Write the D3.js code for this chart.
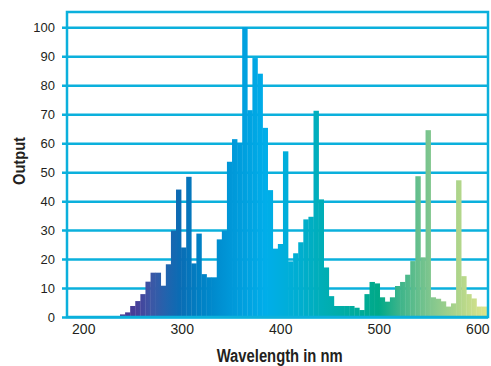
<!DOCTYPE html>
<html>
<head>
<meta charset="utf-8">
<script src="https://cdn.jsdelivr.net/npm/d3@7"></script>
<style>
  body { margin: 0; background: #fff; }
  svg { display: block; }
</style>
</head>
<body>
<svg id="chart"></svg>
<script>
// Spectral output chart (wavelength vs relative output)

const width = 491, height = 366;
const frame = { left: 67, right: 488, top: 12, bottom: 317 };
const gridColor = "#0bb0dc";

// data: one bar per bin, starting at binStart nm
const binStart = 237.3, binWidth = 5.17;
const output = [
    0.9, 1.6, 3.8, 5.5, 7.9, 12.2, 15.3, 15.3, 10.8, 18.2,
    29.8, 44, 24, 48.4, 18.5, 28.8, 14.8, 13.7, 13.7, 26.8,
    29.8, 53.6, 61.4, 60.1, 100, 71.4, 89.4, 84, 65.3, 43.8,
    23.6, 25.2, 57.2, 19.2, 22, 25.8, 33.7, 34.6, 71.2, 40.6,
    17.1, 7.2, 3.8, 3.8, 3.8, 3.8, 3.2, 2.4, 7.9, 12.1,
    11.6, 6.8, 5.3, 6.8, 10.7, 12.1, 14.6, 19.3, 48.6, 20.6,
    64.5, 6.8, 6.3, 5.4, 3.6, 4.7, 47.2, 14.1, 7.9, 6.4,
    3.6, 3.6
];
const xTicks = [200, 300, 400, 500, 600];
const yTicks = [0, 10, 20, 30, 40, 50, 60, 70, 80, 90, 100];

// colour of the spectrum at a given wavelength
const stopNm = [237, 255, 270, 285, 298, 318, 349, 370, 385, 420, 441, 461, 481, 500, 521, 552, 583, 610];
const stopColor = ["#4b3590", "#46409a", "#3b58a6", "#2064ae", "#0a6cb4", "#0080c4", "#0097d8", "#00a4e2",
                   "#00aeea", "#00aed0", "#00aeb8", "#00ada8", "#00ab98", "#00a988", "#3cb48a", "#80c68e",
                   "#b2d68a", "#e0e58a"];

const svg = d3.select("#chart")
    .attr("width", width)
    .attr("height", height);

const x = d3.scaleLinear()
    .domain([183.5, 610.9])
    .range([frame.left, frame.right]);

const y = d3.scaleLinear()
    .domain([0, 105.3])
    .range([frame.bottom, frame.top]);

// horizontal gradient across the spectrum
const grad = svg.append("defs").append("linearGradient")
    .attr("id", "spectrum")
    .attr("gradientUnits", "userSpaceOnUse")
    .attr("x1", x(stopNm[0])).attr("x2", x(stopNm[stopNm.length - 1]))
    .attr("y1", 0).attr("y2", 0);

grad.selectAll("stop")
    .data(stopNm)
    .enter()
    .append("stop")
    .attr("offset", d => (d - stopNm[0]) / (stopNm[stopNm.length - 1] - stopNm[0]))
    .attr("stop-color", (d, i) => stopColor[i]);

// y axis with gridlines (drawn first so the bars cover them)
const yAxis = svg.append("g")
    .attr("transform", `translate(${frame.left - 5},0)`)
    .call(d3.axisLeft(y)
        .tickValues(yTicks)
        .tickSize(-(frame.right - frame.left + 5))
        .tickPadding(7));

yAxis.select(".domain").remove();
yAxis.selectAll(".tick line")
    .attr("stroke", gridColor)
    .attr("stroke-width", 2.5);
yAxis.selectAll(".tick text")
    .attr("fill", "#231f20")
    .style("font-family", "'Liberation Sans', Arial, sans-serif")
    .style("font-size", "13px");

// bars
svg.append("g")
    .selectAll("rect")
    .data(output)
    .enter()
    .append("rect")
    .attr("x", (d, i) => x(binStart + i * binWidth))
    .attr("width", (d, i) => x(binStart + (i + 1) * binWidth) - x(binStart + i * binWidth) + 0.3)
    .attr("y", d => y(d))
    .attr("height", d => y(0) - y(d))
    .attr("fill", "url(#spectrum)");

// frame
svg.append("rect")
    .attr("x", frame.left)
    .attr("y", frame.top)
    .attr("width", frame.right - frame.left)
    .attr("height", frame.bottom - frame.top)
    .attr("fill", "none")
    .attr("stroke", gridColor)
    .attr("stroke-width", 2.5);

// x axis labels
const xAxis = svg.append("g")
    .attr("transform", `translate(0,${frame.bottom})`)
    .call(d3.axisBottom(x)
        .tickValues(xTicks)
        .tickSize(0)
        .tickPadding(7.5));

xAxis.select(".domain").remove();
xAxis.selectAll(".tick text")
    .attr("fill", "#231f20")
    .style("font-family", "'Liberation Sans', Arial, sans-serif")
    .style("font-size", "14px");

// axis titles
svg.append("text")
    .attr("x", 279.7)
    .attr("y", 361.5)
    .attr("text-anchor", "middle")
    .attr("textLength", 126)
    .attr("lengthAdjust", "spacingAndGlyphs")
    .attr("fill", "#231f20")
    .style("font-family", "'Liberation Sans Narrow', 'Liberation Sans', Arial, sans-serif")
    .style("font-weight", "bold")
    .style("font-size", "17.5px")
    .text("Wavelength in nm");

svg.append("text")
    .attr("transform", "translate(24.5,161) rotate(-90)")
    .attr("text-anchor", "middle")
    .attr("textLength", 48)
    .attr("lengthAdjust", "spacingAndGlyphs")
    .attr("fill", "#231f20")
    .style("font-family", "'Liberation Sans Narrow', 'Liberation Sans', Arial, sans-serif")
    .style("font-weight", "bold")
    .style("font-size", "17px")
    .text("Output");
</script>
</body>
</html>
